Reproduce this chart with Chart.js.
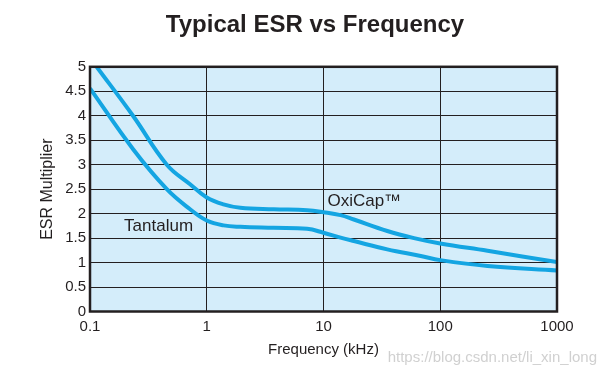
<!DOCTYPE html>
<html>
<head>
<meta charset="utf-8">
<title>Typical ESR vs Frequency</title>
<script src="https://cdn.jsdelivr.net/npm/chart.js@4/dist/chart.umd.min.js"></script>
<style>
  body { margin: 0; background: #fff; }
  canvas { display: block; }
</style>
</head>
<body>
<canvas id="esr-chart" width="606" height="376"></canvas>
<script>
'use strict';

// Data
let xTicks = [0.1, 1, 10, 100, 1000];

let oxiFreq = [0.114, 0.235, 0.455, 0.72, 1, 1.39, 1.94, 3.74, 7.24, 10, 14, 18.2, 35.2, 59.6, 100, 254, 1000];
let oxiEsr = [5.0, 3.99, 3.0, 2.6, 2.33, 2.19, 2.12, 2.09, 2.07, 2.03, 1.97, 1.88, 1.645, 1.5, 1.39, 1.24, 1.01];

let tanFreq = [0.1, 0.235, 0.455, 0.72, 1, 1.39, 1.94, 3.74, 7.24, 10, 14, 18.2, 35.2, 68, 100, 254, 1000];
let tanEsr = [4.56, 3.31, 2.5, 2.09, 1.86, 1.76, 1.73, 1.71, 1.69, 1.61, 1.51, 1.44, 1.27, 1.135, 1.05, 0.93, 0.84];

// curve names written on the plot
let notes = [
  { text: 'OxiCap\u2122', x: 10.8, y: 2.25 },
  { text: 'Tantalum', x: 0.196, y: 1.74 }
];

let ink = '#231f20';
let lineBlue = '#14a5e2';
let fontFam = '"Liberation Sans", Arial, Helvetica, sans-serif';

function toPoints(xs, ys) {
  let pts = [];
  for (let i = 0; i < xs.length; i++) {
    pts.push({ x: xs[i], y: ys[i] });
  }
  return pts;
}

// background, frame, curve names, watermark
let plotDecor = {
  id: 'plotDecor',
  beforeDraw(chart) {
    let a = chart.chartArea;
    let ctx = chart.ctx;
    ctx.save();
    ctx.fillStyle = '#d4edfa';
    ctx.fillRect(a.left, a.top, a.right - a.left, a.bottom - a.top);
    ctx.restore();
  },
  afterDatasetsDraw(chart) {
    let a = chart.chartArea;
    let ctx = chart.ctx;
    let xs = chart.scales.x;
    let ys = chart.scales.y;
    ctx.save();
    ctx.strokeStyle = ink;
    ctx.lineWidth = 2.5;
    ctx.strokeRect(a.left, a.top, a.right - a.left, a.bottom - a.top);

    ctx.fillStyle = ink;
    ctx.font = '17px ' + fontFam;
    ctx.textAlign = 'left';
    ctx.textBaseline = 'middle';
    for (let i = 0; i < notes.length; i++) {
      ctx.fillText(notes[i].text, xs.getPixelForValue(notes[i].x), ys.getPixelForValue(notes[i].y));
    }
    ctx.restore();
  },
  afterDraw(chart) {
    let ctx = chart.ctx;
    ctx.save();
    ctx.fillStyle = 'rgba(170,170,170,0.55)';
    ctx.font = '15px ' + fontFam;
    ctx.textAlign = 'right';
    ctx.textBaseline = 'middle';
    ctx.fillText('https://blog.csdn.net/li_xin_long', 597, 358);
    ctx.restore();
  }
};

let lineStyle = {
  borderColor: lineBlue,
  borderWidth: 4,
  pointRadius: 0,
  fill: false,
  tension: 0.4
};

let canvasElem = document.getElementById('esr-chart');

new Chart(canvasElem, {
  type: 'line',
  data: {
    datasets: [
      Object.assign({ label: 'OxiCap', data: toPoints(oxiFreq, oxiEsr) }, lineStyle),
      Object.assign({ label: 'Tantalum', data: toPoints(tanFreq, tanEsr) }, lineStyle)
    ]
  },
  options: {
    responsive: false,
    animation: false,
    layout: { padding: { left: 24, right: 0, top: 0, bottom: 0 } },
    plugins: {
      legend: { display: false },
      tooltip: { enabled: false },
      title: {
        display: true,
        text: 'Typical ESR vs Frequency',
        color: ink,
        font: { family: fontFam, size: 24, weight: 'bold' },
        padding: { top: 11, bottom: 27 }
      }
    },
    scales: {
      x: {
        type: 'logarithmic',
        min: 0.1,
        max: 1000,
        afterBuildTicks: (axis) => {
          axis.ticks = xTicks.map(v => ({ value: v }));
        },
        afterFit: (axis) => {
          axis.height = 64.5;
        },
        border: { display: false },
        grid: { color: ink, lineWidth: 1, drawTicks: false },
        ticks: {
          color: ink,
          font: { family: fontFam, size: 15 },
          padding: 6,
          autoSkip: false,
          maxRotation: 0,
          callback: (v) => String(v)
        },
        title: {
          display: true,
          text: 'Frequency (kHz)',
          color: ink,
          font: { family: fontFam, size: 15 },
          padding: { top: 17, bottom: 17 }
        }
      },
      y: {
        min: 0,
        max: 5,
        afterFit: (axis) => {
          axis.width = 66;
        },
        border: { display: false },
        grid: { color: ink, lineWidth: 1, drawTicks: false },
        ticks: {
          color: ink,
          stepSize: 0.5,
          font: { family: fontFam, size: 15 },
          padding: 4,
          callback: (v) => String(v)
        },
        title: {
          display: true,
          text: 'ESR Multiplier',
          color: ink,
          font: { family: fontFam, size: 16 },
          padding: { top: 14, bottom: 0 }
        }
      },
      // empty right-hand axis, only keeps the white margin right of the plot
      yRight: {
        position: 'right',
        display: true,
        afterFit: (axis) => {
          axis.width = 49;
        },
        border: { display: false },
        grid: { display: false, drawOnChartArea: false },
        ticks: { display: false }
      }
    }
  },
  plugins: [plotDecor]
});
</script>
</body>
</html>
